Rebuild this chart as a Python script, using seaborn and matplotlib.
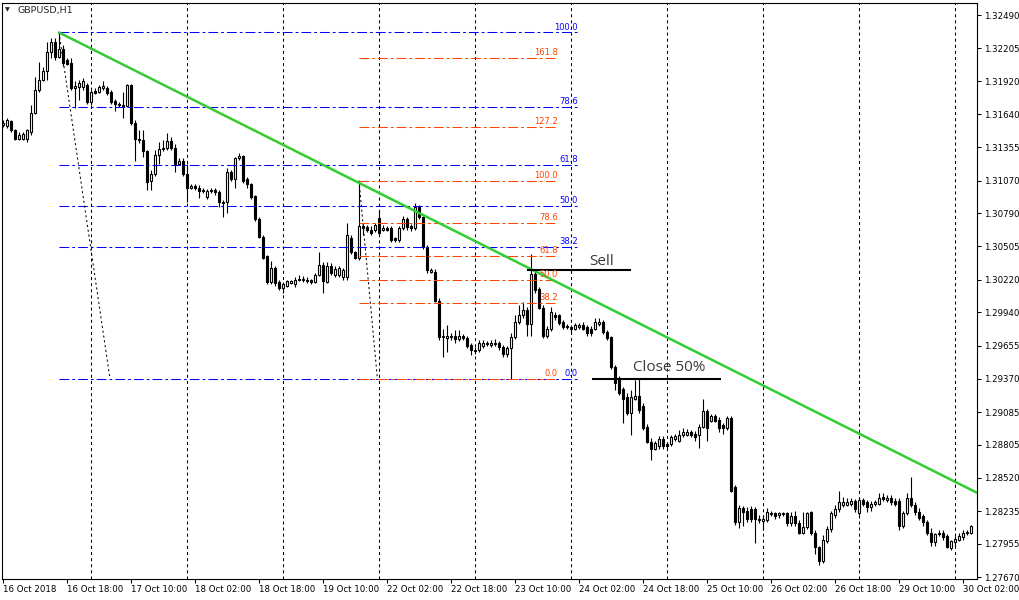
import numpy as np
import matplotlib
matplotlib.use("Agg")
from matplotlib import pyplot as plt
import seaborn as sns

# GBPUSD H1 candles (one entry per hourly bar)
opens = [
    1.3155, 1.3154, 1.3158, 1.3150, 1.3143, 1.3143, 1.3143, 1.3149, 1.3165, 1.3185,
    1.3193, 1.3201, 1.3217, 1.3226, 1.3213, 1.3220, 1.3210, 1.3208, 1.3186, 1.3187,
    1.3187, 1.3189, 1.3174, 1.3184, 1.3183, 1.3186, 1.3186, 1.3183, 1.3175, 1.3173,
    1.3172, 1.3171, 1.3189, 1.3156, 1.3143, 1.3142, 1.3132, 1.3107, 1.3113, 1.3129,
    1.3134, 1.3135, 1.3141, 1.3135, 1.3121, 1.3124, 1.3113, 1.3101, 1.3102, 1.3101,
    1.3098, 1.3093, 1.3098, 1.3099, 1.3097, 1.3089, 1.3089, 1.3114, 1.3108, 1.3126,
    1.3128, 1.3108, 1.3104, 1.3094, 1.3074, 1.3059, 1.3042, 1.3020, 1.3032, 1.3020,
    1.3015, 1.3017, 1.3019, 1.3018, 1.3022, 1.3022, 1.3022, 1.3022, 1.3020, 1.3026,
    1.3035, 1.3020, 1.3034, 1.3026, 1.3026, 1.3024, 1.3024, 1.3058, 1.3046, 1.3041,
    1.3068, 1.3067, 1.3065, 1.3065, 1.3075, 1.3065, 1.3066, 1.3066, 1.3058, 1.3056,
    1.3066, 1.3074, 1.3068, 1.3066, 1.3084, 1.3076, 1.3050, 1.3029, 1.3029, 1.3004,
    1.2973, 1.2972, 1.2973, 1.2974, 1.2971, 1.2974, 1.2972, 1.2966, 1.2962, 1.2962,
    1.2965, 1.2967, 1.2966, 1.2967, 1.2968, 1.2964, 1.2958, 1.2963, 1.2973, 1.2986,
    1.2992, 1.2996, 1.2984, 1.3027, 1.3014, 1.2998, 1.2974, 1.2980, 1.2992, 1.2992,
    1.2986, 1.2982, 1.2981, 1.2980, 1.2981, 1.2983, 1.2981, 1.2980, 1.2980, 1.2984,
    1.2986, 1.2977, 1.2973, 1.2947, 1.2938, 1.2928, 1.2921, 1.2908, 1.2920, 1.2922,
    1.2914, 1.2896, 1.2883, 1.2877, 1.2879, 1.2885, 1.2881, 1.2881, 1.2885, 1.2884,
    1.2889, 1.2889, 1.2891, 1.2890, 1.2889, 1.2896, 1.2909, 1.2901, 1.2905, 1.2902,
    1.2897, 1.2895, 1.2903, 1.2844, 1.2814, 1.2826, 1.2824, 1.2825, 1.2825, 1.2817,
    1.2815, 1.2816, 1.2821, 1.2822, 1.2820, 1.2821, 1.2822, 1.2813, 1.2819, 1.2813,
    1.2805, 1.2810, 1.2823, 1.2805, 1.2793, 1.2781, 1.2798, 1.2808, 1.2820, 1.2825,
    1.2829, 1.2829, 1.2830, 1.2832, 1.2822, 1.2833, 1.2831, 1.2827, 1.2830, 1.2830,
    1.2836, 1.2833, 1.2835, 1.2832, 1.2832, 1.2811, 1.2822, 1.2835, 1.2829, 1.2823,
    1.2819, 1.2814, 1.2805, 1.2797, 1.2804, 1.2805, 1.2802, 1.2792, 1.2797, 1.2799,
    1.2801, 1.2805, 1.2805,
]
closes = [
    1.3156, 1.3159, 1.3150, 1.3143, 1.3146, 1.3147, 1.3150, 1.3165, 1.3185, 1.3193,
    1.3201, 1.3217, 1.3226, 1.3213, 1.3220, 1.3208, 1.3207, 1.3186, 1.3188, 1.3191,
    1.3192, 1.3174, 1.3183, 1.3182, 1.3187, 1.3188, 1.3182, 1.3174, 1.3173, 1.3172,
    1.3171, 1.3189, 1.3156, 1.3143, 1.3142, 1.3132, 1.3106, 1.3113, 1.3129, 1.3134,
    1.3135, 1.3141, 1.3135, 1.3121, 1.3124, 1.3113, 1.3101, 1.3102, 1.3101, 1.3098,
    1.3099, 1.3098, 1.3099, 1.3097, 1.3089, 1.3088, 1.3114, 1.3108, 1.3126, 1.3128,
    1.3107, 1.3104, 1.3093, 1.3074, 1.3059, 1.3041, 1.3020, 1.3032, 1.3019, 1.3015,
    1.3018, 1.3021, 1.3021, 1.3022, 1.3023, 1.3023, 1.3021, 1.3020, 1.3026, 1.3035,
    1.3021, 1.3034, 1.3028, 1.3031, 1.3032, 1.3030, 1.3060, 1.3046, 1.3041, 1.3068,
    1.3066, 1.3065, 1.3062, 1.3069, 1.3062, 1.3066, 1.3065, 1.3056, 1.3056, 1.3066,
    1.3074, 1.3067, 1.3066, 1.3084, 1.3076, 1.3050, 1.3030, 1.3030, 1.3004, 1.2973,
    1.2974, 1.2974, 1.2974, 1.2971, 1.2974, 1.2972, 1.2965, 1.2962, 1.2961, 1.2968,
    1.2968, 1.2968, 1.2968, 1.2968, 1.2964, 1.2958, 1.2963, 1.2973, 1.2986, 1.2992,
    1.2996, 1.2984, 1.3027, 1.3013, 1.2998, 1.2974, 1.2980, 1.2994, 1.2990, 1.2985,
    1.2981, 1.2981, 1.2980, 1.2983, 1.2983, 1.2980, 1.2976, 1.2976, 1.2986, 1.2986,
    1.2977, 1.2972, 1.2947, 1.2933, 1.2925, 1.2920, 1.2908, 1.2921, 1.2922, 1.2910,
    1.2895, 1.2883, 1.2877, 1.2882, 1.2885, 1.2879, 1.2879, 1.2887, 1.2888, 1.2889,
    1.2891, 1.2891, 1.2889, 1.2887, 1.2896, 1.2909, 1.2895, 1.2905, 1.2901, 1.2895,
    1.2895, 1.2903, 1.2841, 1.2814, 1.2826, 1.2823, 1.2817, 1.2817, 1.2817, 1.2816,
    1.2817, 1.2823, 1.2822, 1.2819, 1.2822, 1.2822, 1.2813, 1.2819, 1.2813, 1.2805,
    1.2810, 1.2822, 1.2805, 1.2793, 1.2781, 1.2799, 1.2808, 1.2822, 1.2825, 1.2831,
    1.2831, 1.2831, 1.2832, 1.2825, 1.2833, 1.2830, 1.2827, 1.2830, 1.2831, 1.2835,
    1.2834, 1.2835, 1.2831, 1.2830, 1.2811, 1.2822, 1.2835, 1.2829, 1.2823, 1.2818,
    1.2814, 1.2805, 1.2797, 1.2804, 1.2805, 1.2801, 1.2793, 1.2798, 1.2800, 1.2802,
    1.2805, 1.2806, 1.2811,
]
highs = [
    1.3159, 1.3161, 1.3159, 1.3151, 1.3149, 1.3149, 1.3151, 1.3172, 1.3196, 1.3209,
    1.3204, 1.3226, 1.3229, 1.3229, 1.3234, 1.3223, 1.3212, 1.3212, 1.3192, 1.3193,
    1.3195, 1.3191, 1.3185, 1.3186, 1.3189, 1.3192, 1.3188, 1.3185, 1.3177, 1.3174,
    1.3183, 1.3190, 1.3190, 1.3159, 1.3150, 1.3150, 1.3133, 1.3116, 1.3133, 1.3140,
    1.3142, 1.3148, 1.3144, 1.3138, 1.3126, 1.3126, 1.3121, 1.3104, 1.3104, 1.3103,
    1.3101, 1.3100, 1.3101, 1.3101, 1.3099, 1.3090, 1.3118, 1.3116, 1.3127, 1.3131,
    1.3129, 1.3110, 1.3105, 1.3095, 1.3076, 1.3060, 1.3043, 1.3038, 1.3034, 1.3022,
    1.3020, 1.3022, 1.3022, 1.3024, 1.3026, 1.3025, 1.3024, 1.3023, 1.3028, 1.3046,
    1.3037, 1.3037, 1.3036, 1.3034, 1.3034, 1.3032, 1.3071, 1.3060, 1.3047, 1.3105,
    1.3070, 1.3069, 1.3068, 1.3071, 1.3082, 1.3069, 1.3068, 1.3068, 1.3059, 1.3068,
    1.3077, 1.3076, 1.3070, 1.3088, 1.3086, 1.3077, 1.3052, 1.3032, 1.3031, 1.3006,
    1.2980, 1.2983, 1.2976, 1.2979, 1.2979, 1.2975, 1.2974, 1.2968, 1.2964, 1.2970,
    1.2970, 1.2969, 1.2970, 1.2971, 1.2969, 1.2966, 1.2965, 1.2976, 1.2992, 1.3000,
    1.3003, 1.2999, 1.3044, 1.3030, 1.3016, 1.3000, 1.2982, 1.2999, 1.2994, 1.2993,
    1.2987, 1.2984, 1.2983, 1.2985, 1.2985, 1.2986, 1.2983, 1.2982, 1.2989, 1.2989,
    1.2987, 1.2979, 1.2974, 1.2949, 1.2939, 1.2930, 1.2925, 1.2927, 1.2936, 1.2938,
    1.2916, 1.2898, 1.2886, 1.2884, 1.2888, 1.2888, 1.2883, 1.2889, 1.2890, 1.2893,
    1.2895, 1.2894, 1.2893, 1.2892, 1.2898, 1.2920, 1.2911, 1.2907, 1.2907, 1.2904,
    1.2899, 1.2905, 1.2905, 1.2846, 1.2829, 1.2828, 1.2827, 1.2828, 1.2827, 1.2820,
    1.2820, 1.2826, 1.2824, 1.2823, 1.2823, 1.2823, 1.2823, 1.2823, 1.2824, 1.2816,
    1.2823, 1.2823, 1.2824, 1.2807, 1.2794, 1.2803, 1.2811, 1.2824, 1.2829, 1.2841,
    1.2836, 1.2835, 1.2835, 1.2834, 1.2835, 1.2835, 1.2833, 1.2832, 1.2833, 1.2839,
    1.2839, 1.2837, 1.2837, 1.2835, 1.2835, 1.2824, 1.2839, 1.2853, 1.2831, 1.2826,
    1.2821, 1.2816, 1.2809, 1.2805, 1.2807, 1.2807, 1.2804, 1.2799, 1.2802, 1.2805,
    1.2807, 1.2807, 1.2812,
]
lows = [
    1.3153, 1.3152, 1.3149, 1.3142, 1.3142, 1.3142, 1.3140, 1.3146, 1.3164, 1.3183,
    1.3192, 1.3193, 1.3212, 1.3210, 1.3212, 1.3205, 1.3206, 1.3185, 1.3169, 1.3176,
    1.3185, 1.3173, 1.3172, 1.3181, 1.3182, 1.3185, 1.3180, 1.3173, 1.3167, 1.3170,
    1.3161, 1.3170, 1.3155, 1.3124, 1.3139, 1.3127, 1.3099, 1.3099, 1.3111, 1.3121,
    1.3132, 1.3133, 1.3133, 1.3114, 1.3120, 1.3111, 1.3089, 1.3100, 1.3099, 1.3092,
    1.3096, 1.3091, 1.3096, 1.3095, 1.3084, 1.3076, 1.3079, 1.3107, 1.3101, 1.3125,
    1.3105, 1.3101, 1.3091, 1.3072, 1.3058, 1.3040, 1.3018, 1.3018, 1.3017, 1.3013,
    1.3011, 1.3016, 1.3018, 1.3016, 1.3021, 1.3020, 1.3019, 1.3018, 1.3019, 1.3025,
    1.3011, 1.3019, 1.3026, 1.3024, 1.3024, 1.3022, 1.3022, 1.3044, 1.3040, 1.3039,
    1.3060, 1.3063, 1.3060, 1.3063, 1.3061, 1.3064, 1.3064, 1.3054, 1.3054, 1.3054,
    1.3065, 1.3065, 1.3064, 1.3065, 1.3074, 1.3048, 1.3028, 1.3028, 1.3003, 1.2970,
    1.2956, 1.2960, 1.2970, 1.2968, 1.2969, 1.2970, 1.2963, 1.2957, 1.2958, 1.2960,
    1.2963, 1.2965, 1.2964, 1.2965, 1.2962, 1.2956, 1.2956, 1.2937, 1.2971, 1.2984,
    1.2989, 1.2974, 1.2974, 1.3011, 1.2997, 1.2972, 1.2972, 1.2978, 1.2987, 1.2983,
    1.2980, 1.2980, 1.2977, 1.2979, 1.2980, 1.2979, 1.2974, 1.2974, 1.2979, 1.2982,
    1.2975, 1.2970, 1.2945, 1.2927, 1.2923, 1.2899, 1.2906, 1.2889, 1.2919, 1.2908,
    1.2893, 1.2882, 1.2867, 1.2876, 1.2877, 1.2877, 1.2877, 1.2879, 1.2884, 1.2883,
    1.2887, 1.2888, 1.2887, 1.2884, 1.2878, 1.2895, 1.2884, 1.2900, 1.2900, 1.2891,
    1.2890, 1.2893, 1.2840, 1.2812, 1.2809, 1.2811, 1.2814, 1.2814, 1.2796, 1.2813,
    1.2807, 1.2814, 1.2819, 1.2817, 1.2818, 1.2819, 1.2811, 1.2811, 1.2811, 1.2804,
    1.2804, 1.2808, 1.2803, 1.2787, 1.2777, 1.2779, 1.2796, 1.2806, 1.2818, 1.2823,
    1.2827, 1.2828, 1.2828, 1.2823, 1.2820, 1.2828, 1.2823, 1.2824, 1.2828, 1.2829,
    1.2832, 1.2831, 1.2829, 1.2828, 1.2807, 1.2809, 1.2820, 1.2827, 1.2820, 1.2816,
    1.2811, 1.2803, 1.2794, 1.2794, 1.2802, 1.2799, 1.2792, 1.2790, 1.2794, 1.2798,
    1.2799, 1.2803, 1.2804,
]

# time axis labels (every 16 bars) and daily separators (bar index)
xtick_bars = list(range(0, 241, 16))
xtick_labels = ["16 Oct 2018", "16 Oct 18:00", "17 Oct 10:00", "18 Oct 02:00",
                "18 Oct 18:00", "19 Oct 10:00", "22 Oct 02:00", "22 Oct 18:00",
                "23 Oct 10:00", "24 Oct 02:00", "24 Oct 18:00", "25 Oct 10:00",
                "26 Oct 02:00", "26 Oct 18:00", "29 Oct 10:00", "30 Oct 02:00"]
day_bars = [22, 46, 70, 94, 118, 142, 166, 190, 214, 238]

ytick_vals = [1.27670, 1.27955, 1.28235, 1.28520, 1.28805, 1.29085, 1.29370,
              1.29655, 1.29940, 1.30220, 1.30505, 1.30790, 1.31070, 1.31355,
              1.31640, 1.31920, 1.32205, 1.32490]

# trendline through the two highs
trend_bars = [14, 89]
trend_prices = [1.3234, 1.3105]

# big (blue) fibonacci: anchors and levels
fib1_bars = [14, 26.75]
fib1_prices = [1.3234, 1.2937]
fib1_end = 143.75
fib1_levels = [0.0, 38.2, 50.0, 61.8, 78.6, 100.0]

# small (orange) fibonacci
fib2_bars = [89, 93.6]
fib2_prices = [1.3107, 1.2937]
fib2_end = 138.75
fib2_levels = [0.0, 38.2, 50.0, 61.8, 78.6, 100.0, 127.2, 161.8]

sell_bars = [131, 157]
sell_price = 1.3030
close_bars = [147.25, 179.5]
close_price = 1.2937

sns.set_theme(style="white")
plt.rcParams['font.family'] = ['DejaVu Sans']
plt.rcParams['lines.scale_dashes'] = False

fig = plt.figure(figsize=(10.2, 6.0), dpi=100)
ax = fig.add_axes([2 / 1020, 21 / 600, 975 / 1020, 576 / 600])

o = np.array(opens)
c = np.array(closes)
h = np.maximum(np.array(highs), np.maximum(o, c))
l = np.minimum(np.array(lows), np.minimum(o, c))
x = np.arange(len(c))
up = c >= o

# daily separators
for b in day_bars:
    ax.axvline(b, color="black", lw=0.75, ls=(0, (2.2, 2.2)), zorder=1)

# candles
ax.vlines(x, l, h, color="black", lw=0.8, zorder=2)
ax.bar(x[up], (c - o)[up], bottom=o[up], width=0.62, color="white",
       edgecolor="black", lw=0.8, zorder=3)
ax.bar(x[~up], (o - c)[~up], bottom=c[~up], width=0.62, color="black",
       edgecolor="black", lw=0.8, zorder=3)

xmin, xmax = -0.25, 243.5
ax.set_xlim(xmin, xmax)
ax.set_ylim(1.27653, 1.32593)

# fibonacci objects
blue = "#0000ff"
orange = "#ff4500"
dashdot = (0, (7, 2.2, 2, 2.2))
rng1 = fib1_prices[0] - fib1_prices[1]
for lv in fib1_levels:
    p = fib1_prices[1] + rng1 * lv / 100
    ax.hlines(p, fib1_bars[0], fib1_end, color=blue, lw=0.75, ls=dashdot, zorder=4)
    ax.text(fib1_end, p + 0.00008, f"{lv:.1f}", color=blue, fontsize=6,
            ha="right", va="bottom", zorder=6)
rng2 = fib2_prices[0] - fib2_prices[1]
for lv in fib2_levels:
    p = fib2_prices[1] + rng2 * lv / 100
    ax.hlines(p, fib2_bars[0], fib2_end, color=orange, lw=0.75, ls=dashdot, zorder=4)
    ax.text(fib2_end, p + 0.00008, f"{lv:.1f}", color=orange, fontsize=6,
            ha="right", va="bottom", zorder=6)
sns.lineplot(x=fib1_bars, y=fib1_prices, color="black", lw=0.75,
             ls=(0, (1.5, 2)), ax=ax, zorder=4)
sns.lineplot(x=fib2_bars, y=fib2_prices, color="black", lw=0.75,
             ls=(0, (1.5, 2)), ax=ax, zorder=4)

# trendline (ray to the right edge)
slope = (trend_prices[1] - trend_prices[0]) / (trend_bars[1] - trend_bars[0])
ray_x = [trend_bars[0], xmax]
ray_y = [trend_prices[0], trend_prices[0] + slope * (xmax - trend_bars[0])]
sns.lineplot(x=ray_x, y=ray_y, color="#33cc33", lw=1.8, ax=ax, zorder=5)

# trade marks
ax.hlines(sell_price, sell_bars[0], sell_bars[1], color="black", lw=1.5, zorder=5)
ax.text(146.5, sell_price + 0.0001, "Sell", family=["Open Sans", "DejaVu Sans"],
        fontsize=11, color="#3a3a3a", ha="left", va="bottom", zorder=6)
ax.hlines(close_price, close_bars[0], close_bars[1], color="black", lw=1.5, zorder=5)
ax.text(157.5, close_price + 0.00035, "Close 50%", family=["Open Sans", "DejaVu Sans"],
        fontsize=11, color="#3a3a3a", ha="left", va="bottom", zorder=6)

# axes styling
ax.yaxis.tick_right()
ax.set_yticks(ytick_vals)
ax.set_yticklabels([f"{v:.5f}" for v in ytick_vals])
ax.set_xticks(xtick_bars)
ax.set_xticklabels(xtick_labels)
for lab in ax.get_xticklabels():
    lab.set_ha("left")
ax.tick_params(axis="y", which="both", right=True, left=False, direction="out",
               length=3, width=0.75, pad=2, labelsize=6.2, colors="black")
ax.tick_params(axis="x", which="both", bottom=True, direction="out",
               length=3, width=0.75, pad=1.5, labelsize=6.2, colors="black")
for s in ax.spines.values():
    s.set_color("black")
    s.set_linewidth(0.8)
ax.set_xlabel("")
ax.set_ylabel("")
ax.grid(False)

fig.text(5 / 1020, 1 - 10 / 600, "\u25BC", fontsize=4.5, ha="left", va="center")
fig.text(18 / 1020, 1 - 10 / 600, "GBPUSD,H1", fontsize=6.8, ha="left", va="center")

fig.savefig("out.png", dpi=100)
